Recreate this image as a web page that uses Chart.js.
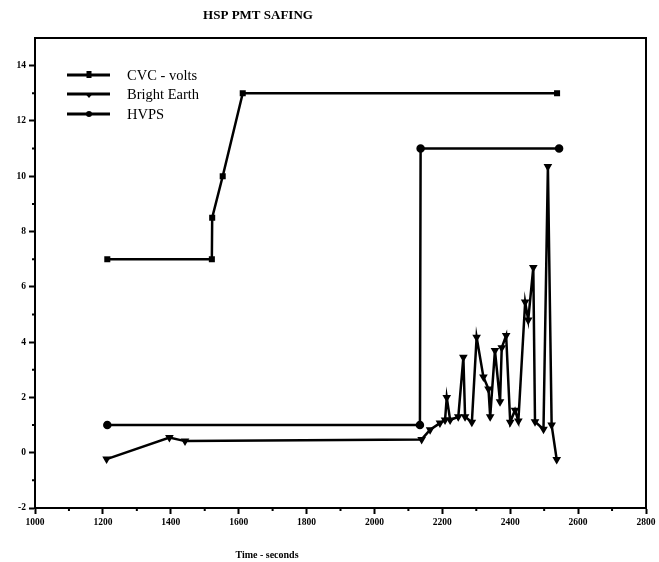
<!DOCTYPE html>
<html>
<head>
<meta charset="utf-8">
<script src="https://cdn.jsdelivr.net/npm/chart.js@4.4.1/dist/chart.umd.min.js"></script>
<style>
html,body{margin:0;padding:0;background:#fff;}
#wrap{width:659px;height:562px;position:relative;}
</style>
</head>
<body>
<div id="wrap"><canvas id="c" width="659" height="562"></canvas></div>
<script>
// ---- data ----
const chartTitle = "HSP PMT SAFING";
const xAxisTitle = "Time - seconds";
const seriesNames = ["CVC - volts", "Bright Earth", "HVPS"];

const cvcTime  = [1213, 1521, 1522, 1553, 1612, 2538];
const cvcVolts = [7, 7, 8.5, 10, 13, 13];

const beTime = [1211, 1396, 1442, 2139, 2164, 2193, 2208, 2213, 2223, 2247, 2262, 2267, 2287, 2301, 2321, 2336, 2341, 2355, 2370, 2375, 2388, 2400, 2414, 2424, 2444, 2453, 2468, 2473, 2498, 2511, 2522, 2537];
const beVals = [-0.23, 0.55, 0.42, 0.48, 0.83, 1.07, 1.18, 2.0, 1.18, 1.3, 3.45, 1.3, 1.1, 4.18, 2.74, 2.3, 1.3, 3.7, 1.84, 3.8, 4.24, 1.1, 1.54, 1.15, 5.45, 4.8, 6.7, 1.12, 0.85, 10.35, 1.0, -0.25];

const hvpsTime = [1213, 2134, 2136, 2544];
const hvpsVals = [1, 1, 11, 11];

const xMin = 1000, xMax = 2800, xMajor = 200, xMinor = 100;
const yMin = -2, yMax = 15, yMajor = 2, yMinor = 1;

function pts(xs, ys){ return xs.map((x,i)=>({x:x, y:ys[i]})); }

const SERIF = "'Liberation Serif', 'DejaVu Serif', serif";

const framePlugin = {
  id: 'frame',
  afterDraw(chart){
    const ctx = chart.ctx, a = chart.chartArea;
    const xs = chart.scales.x, ys = chart.scales.y;
    ctx.save();
    ctx.strokeStyle = '#000';
    ctx.lineWidth = 2;
    ctx.strokeRect(a.left, a.top, a.right - a.left, a.bottom - a.top);
    // minor ticks
    ctx.beginPath();
    for (let v = xMin + xMinor; v < xMax; v += xMajor) {
      const px = xs.getPixelForValue(v);
      ctx.moveTo(px, a.bottom); ctx.lineTo(px, a.bottom + 3);
    }
    for (let v = yMin + yMinor; v < yMax; v += yMajor) {
      const py = ys.getPixelForValue(v);
      ctx.moveTo(a.left, py); ctx.lineTo(a.left - 3, py);
    }
    ctx.stroke();
    // title
    ctx.fillStyle = '#000';
    ctx.textAlign = 'center';
    ctx.textBaseline = 'middle';
    ctx.font = "bold 13px " + SERIF;
    ctx.fillText(chartTitle, 258, 16);
    ctx.font = "bold 10px " + SERIF;
    ctx.fillText(xAxisTitle, 267, 555);
    // legend
    const rows = [75, 94, 114];
    chart.data.datasets.forEach((ds, i) => {
      const y = rows[i];
      ctx.strokeStyle = '#000';
      ctx.lineWidth = 3;
      ctx.beginPath(); ctx.moveTo(67, y); ctx.lineTo(110, y); ctx.stroke();
      ctx.fillStyle = '#000';
      const mx = 89;
      if (ds.pointStyle === 'rect') {
        ctx.fillRect(mx - 2.5, y - 4, 5, 7);
      } else if (ds.pointStyle === 'triangle') {
        ctx.beginPath(); ctx.moveTo(mx - 3.5, y); ctx.lineTo(mx + 3.5, y); ctx.lineTo(mx, y + 4); ctx.closePath(); ctx.fill();
      } else {
        ctx.beginPath(); ctx.arc(mx, y, 3, 0, Math.PI * 2); ctx.fill();
      }
      ctx.textAlign = 'left';
      ctx.font = "14.5px " + SERIF;
      ctx.fillText(ds.label, 127, y + 1);
    });
    ctx.restore();
  }
};

const common = {
  borderColor: '#000', backgroundColor: '#000', borderWidth: 2.5,
  pointBorderColor: '#000', pointBackgroundColor: '#000',
  showLine: true, fill: false, tension: 0
};

new Chart(document.getElementById('c'), {
  type: 'scatter',
  data: {
    datasets: [
      Object.assign({label: seriesNames[0], data: pts(cvcTime, cvcVolts), pointStyle: 'rect', pointRadius: 2.5}, common),
      Object.assign({label: seriesNames[1], data: pts(beTime, beVals), pointStyle: 'triangle', pointRotation: 180, pointRadius: 2.5}, common),
      Object.assign({label: seriesNames[2], data: pts(hvpsTime, hvpsVals), pointStyle: 'circle', pointRadius: 3}, common)
    ]
  },
  options: {
    responsive: false,
    animation: false,
    devicePixelRatio: 1,
    layout: { padding: { top: 38, right: 13, left: 0, bottom: 0 } },
    plugins: { legend: { display: false }, title: { display: false }, tooltip: { enabled: false } },
    scales: {
      x: {
        type: 'linear', min: xMin, max: xMax,
        afterFit(s){ s.height = 54; },
        afterBuildTicks(s){ const t=[]; for(let v=xMin; v<=xMax; v+=xMajor) t.push({value:v}); s.ticks=t; },
        ticks: { autoSkip: false, maxRotation: 0, padding: 3, color: '#000', font: { family: SERIF, size: 9.5, weight: 'bold' }, callback: v => String(v) },
        grid: { drawOnChartArea: false, drawTicks: true, tickLength: 6, tickColor: '#000', tickWidth: 2 },
        border: { display: true, color: '#000', width: 2 }
      },
      y: {
        type: 'linear', min: yMin, max: yMax,
        afterFit(s){ s.width = 35; },
        afterBuildTicks(s){ const t=[]; for(let v=yMin; v<yMax; v+=yMajor) t.push({value:v}); s.ticks=t; },
        ticks: { autoSkip: false, padding: 3, color: '#000', font: { family: SERIF, size: 9.5, weight: 'bold' }, callback: v => String(v) },
        grid: { drawOnChartArea: false, drawTicks: true, tickLength: 6, tickColor: '#000', tickWidth: 2 },
        border: { display: true, color: '#000', width: 2 }
      }
    }
  },
  plugins: [framePlugin]
});
</script>
</body>
</html>
